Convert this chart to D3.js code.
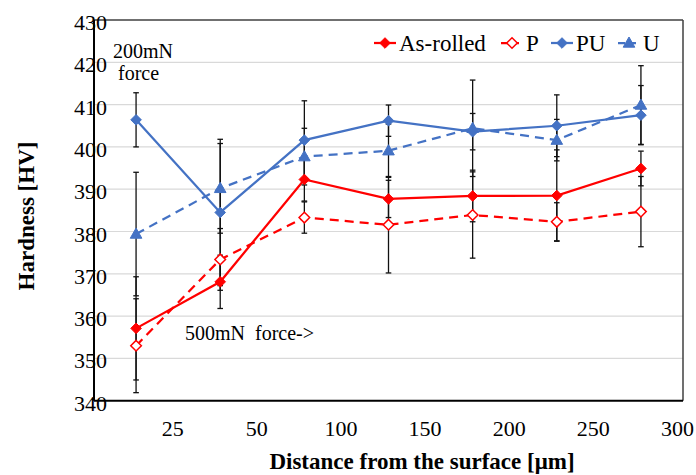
<!DOCTYPE html>
<html><head><meta charset="utf-8">
<script src="https://cdn.jsdelivr.net/npm/d3@7"></script>
<style>body{margin:0;background:#fff}svg{display:block}text{font-family:"Liberation Serif","Times New Roman",serif;fill:#000}</style>
</head><body><svg id="c" width="696" height="475"></svg>
<script>
const categories = ["c1","c2","c3","c4","c5","c6","c7"];
const xTickLabels = ["25","50","100","150","200","250","300"];
const yTicks = [340,350,360,370,380,390,400,410,420,430];
const asRolled = [357.1, 368.1, 392.3, 387.7, 388.4, 388.5, 394.9];
const asRolledErr = [12.2, 6.3, 5.1, 4.4, 6.1, 10.8, 4.1];
const pVals = [353.0, 373.4, 383.3, 381.6, 383.9, 382.3, 384.7];
const pErr = [11.1, 7.3, 3.7, 11.4, 10.2, 4.5, 8.3];
const puVals = [406.4, 384.5, 401.6, 406.2, 403.6, 405.0, 407.5];
const puErr = [6.4, 17.3, 9.3, 3.7, 4.3, 7.3, 7.0];
const uVals = [379.4, 390.2, 397.7, 399.1, 404.4, 401.6, 409.9];
const uErr = [14.6, 10.6, 6.7, 6.3, 11.4, 4.9, 9.3];

const series = [
  {name:"As-rolled", vals:asRolled, err:asRolledErr, color:"#FF0000", dash:null, marker:"diamond", fill:"#FF0000"},
  {name:"P", vals:pVals, err:pErr, color:"#FF0000", dash:"9,6", marker:"diamond", fill:"#FFFFFF"},
  {name:"PU", vals:puVals, err:puErr, color:"#4472C4", dash:null, marker:"diamond", fill:"#4472C4"},
  {name:"U", vals:uVals, err:uErr, color:"#4472C4", dash:"9,6", marker:"triangle", fill:"#4472C4"}
];

const svg = d3.select("#c");
const L = 94, R = 683, T = 20, B = 400.7;
const x = d3.scaleBand().domain(categories).range([L, R]).padding(0);
const y = d3.scaleLinear().domain([340, 430]).range([B, T]);
const cx = i => x(categories[i]) + x.bandwidth()/2;

// gridlines
svg.append("g").selectAll("line").data(yTicks.filter(v => v > 340 && v < 430)).join("line")
  .attr("x1", L).attr("x2", R).attr("y1", d => y(d)).attr("y2", d => y(d))
  .attr("stroke", "#D9D9D9").attr("stroke-width", 1.2);

// frame
svg.append("line").attr("x1", L).attr("x2", R).attr("y1", T).attr("y2", T).attr("stroke", "#404040").attr("stroke-width", 1.5);
svg.append("line").attr("x1", R).attr("x2", R).attr("y1", T).attr("y2", B).attr("stroke", "#404040").attr("stroke-width", 1.5);
svg.append("line").attr("x1", L).attr("x2", R).attr("y1", B).attr("y2", B).attr("stroke", "#000").attr("stroke-width", 2);
svg.append("line").attr("x1", L).attr("x2", L).attr("y1", T).attr("y2", B).attr("stroke", "#000").attr("stroke-width", 2);

// y tick labels
svg.append("g").selectAll("text").data(yTicks).join("text")
  .attr("x", 90.5).attr("y", d => y(d) + 10)
  .attr("text-anchor", "middle").attr("font-size", 22).text(d => d);

// x tick labels at band boundaries
svg.append("g").selectAll("text").data(xTickLabels).join("text")
  .attr("x", (d,i) => x(categories[i]) + x.bandwidth() - 5.5).attr("y", 436)
  .attr("text-anchor", "middle").attr("font-size", 22).text(d => d);

// axis titles
svg.append("text").attr("x", 422).attr("y", 469).attr("text-anchor", "middle")
  .attr("font-size", 23).attr("font-weight", "bold").text("Distance from the surface [μm]");
svg.append("text").attr("transform", "translate(34,216) rotate(-90)").attr("text-anchor", "middle")
  .attr("font-size", 23).attr("font-weight", "bold").text("Hardness [HV]");

// lines
const line = d3.line().x((d,i) => cx(i)).y(d => y(d));
series.forEach(s => {
  svg.append("path").datum(s.vals).attr("d", line).attr("fill", "none")
    .attr("stroke", s.color).attr("stroke-width", 2.25)
    .attr("stroke-dasharray", s.dash);
});

// error bars
series.forEach(s => {
  const g = svg.append("g").attr("stroke", "#111").attr("stroke-width", 1.3);
  s.vals.forEach((v,i) => {
    const x0 = cx(i), y1 = y(v + s.err[i]), y2 = y(v - s.err[i]);
    g.append("line").attr("x1", x0).attr("x2", x0).attr("y1", y1).attr("y2", y2);
    g.append("line").attr("x1", x0-2.8).attr("x2", x0+2.8).attr("y1", y1).attr("y2", y1);
    g.append("line").attr("x1", x0-2.8).attr("x2", x0+2.8).attr("y1", y2).attr("y2", y2);
  });
});

const markerPath = m => m === "triangle" ? "M0,-6 L5.8,4.2 L-5.8,4.2 Z" : "M0,-5.3 L5.3,0 L0,5.3 L-5.3,0 Z";
// markers
series.forEach(s => {
  svg.append("g").selectAll("path").data(s.vals).join("path")
    .attr("transform", (d,i) => `translate(${cx(i)},${y(d)})`)
    .attr("d", markerPath(s.marker))
    .attr("fill", s.fill).attr("stroke", s.color).attr("stroke-width", s.fill === "#FFFFFF" ? 1.5 : 1);
});

// legend
const legX = [374, 501, 551, 618];
const leg = svg.append("g");
series.forEach((s,k) => {
  const x0 = legX[k], yy = 43;
  leg.append("line").attr("x1", x0).attr("x2", x0+22).attr("y1", yy).attr("y2", yy)
    .attr("stroke", s.color).attr("stroke-width", 2.25).attr("stroke-dasharray", s.dash ? "7,4" : null);
  leg.append("path").attr("transform", `translate(${x0+11},${yy})`).attr("d", markerPath(s.marker))
    .attr("fill", s.fill).attr("stroke", s.color).attr("stroke-width", s.fill === "#FFFFFF" ? 1.5 : 1);
  leg.append("text").attr("x", x0+25).attr("y", yy+8).attr("font-size", 23).text(s.name);
});

// annotations
svg.append("text").attr("x", 113).attr("y", 58).attr("font-size", 20).text("200mN");
svg.append("text").attr("x", 118).attr("y", 80).attr("font-size", 20).text("force");
svg.append("text").attr("x", 185).attr("y", 340).attr("font-size", 20).attr("xml:space","preserve").style("white-space","pre").text("500mN  force->");
</script></body></html>
